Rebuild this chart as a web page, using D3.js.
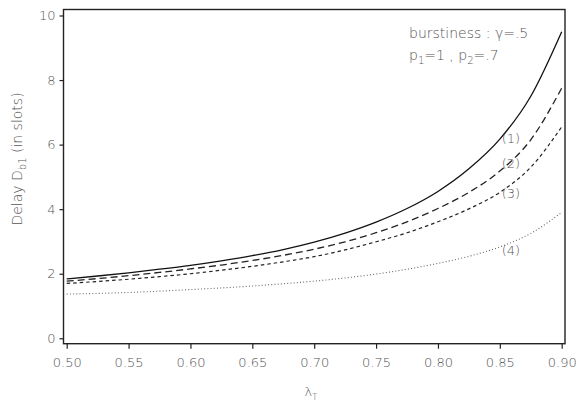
<!DOCTYPE html>
<html>
<head>
<meta charset="utf-8">
<script src="https://cdn.jsdelivr.net/npm/d3@7"></script>
<style>
  html, body { margin: 0; padding: 0; background: #fff; }
  svg { display: block; }
  text { font-family: "DejaVu Sans", sans-serif; fill: #555; }
</style>
</head>
<body>
<svg id="chart" width="578" height="404"></svg>
<script>
// Load factor values at which the delay was evaluated
const lambdaT = [0.50, 0.525, 0.55, 0.575, 0.60, 0.625, 0.65, 0.675, 0.70,
                 0.725, 0.75, 0.775, 0.80, 0.825, 0.85, 0.875, 0.90];

// Delay D_b1 (slots) for the four configurations
const delay1 = [1.84, 1.93, 2.03, 2.14, 2.26, 2.40, 2.56, 2.75, 2.98,
                3.26, 3.60, 4.02, 4.55, 5.25, 6.17, 7.50, 9.50];
const delay2 = [1.77, 1.85, 1.94, 2.04, 2.15, 2.27, 2.41, 2.57, 2.76,
                2.99, 3.27, 3.61, 4.02, 4.52, 5.18, 6.15, 7.75];
const delay3 = [1.70, 1.76, 1.83, 1.91, 2.00, 2.11, 2.23, 2.37, 2.53,
                2.74, 2.99, 3.27, 3.61, 4.01, 4.52, 5.30, 6.55];
const delay4 = [1.37, 1.39, 1.42, 1.46, 1.51, 1.56, 1.62, 1.69, 1.77,
                1.87, 1.99, 2.14, 2.32, 2.54, 2.83, 3.25, 3.90];

const seriesNames = ["(1)", "(2)", "(3)", "(4)"];
const labelLambda = [0.859, 0.859, 0.859, 0.859];
const labelDelay  = [6.19, 5.42, 4.49, 2.73];

const xTicks = [0.50, 0.55, 0.60, 0.65, 0.70, 0.75, 0.80, 0.85, 0.90];
const yTicks = [0, 2, 4, 6, 8, 10];

const svg = d3.select("#chart");

// Plot frame and scales
const frame = { left: 63.5, right: 565, top: 9.5, bottom: 343.7 };
const x = d3.scaleLinear().domain([0.50, 0.90]).range([66.7, 561.7]);
const y = d3.scaleLinear().domain([0, 10]).range([338.3, 15.5]);

svg.append("rect")
  .attr("x", frame.left).attr("y", frame.top)
  .attr("width", frame.right - frame.left)
  .attr("height", frame.bottom - frame.top)
  .attr("fill", "none").attr("stroke", "#222").attr("stroke-width", 1.4);

// Axes
const xAxis = svg.append("g")
  .attr("transform", `translate(0,${frame.bottom})`)
  .call(d3.axisBottom(x).tickValues(xTicks).tickFormat(d3.format(".2f"))
        .tickSize(5).tickPadding(9));
const yAxis = svg.append("g")
  .attr("transform", `translate(${frame.left},0)`)
  .call(d3.axisLeft(y).tickValues(yTicks).tickSize(4).tickPadding(4));

[xAxis, yAxis].forEach(g => {
  g.select(".domain").remove();
  g.selectAll(".tick line").attr("stroke", "#222").attr("stroke-width", 1.2);
  g.selectAll(".tick text")
    .style("font-family", "DejaVu Sans, sans-serif")
    .style("font-size", "13px").style("font-weight", "200")
    .attr("fill", "#5a5a5a");
});

// Curves
const series = [delay1, delay2, delay3, delay4];
const styles = [
  { dash: null,    color: "#111", width: 1.3 },
  { dash: "7,4",   color: "#222", width: 1.3 },
  { dash: "3.5,3", color: "#222", width: 1.2 },
  { dash: "1,2.2", color: "#666", width: 1.1 }
];
const line = d3.line()
  .x(d => x(d[0])).y(d => y(d[1]))
  .curve(d3.curveMonotoneX);

series.forEach((vals, i) => {
  svg.append("path")
    .datum(lambdaT.map((l, j) => [l, vals[j]]))
    .attr("d", line)
    .attr("fill", "none")
    .attr("stroke", styles[i].color)
    .attr("stroke-width", styles[i].width)
    .attr("stroke-dasharray", styles[i].dash);
});

// Curve labels
seriesNames.forEach((name, i) => {
  svg.append("text")
    .attr("x", x(labelLambda[i])).attr("y", y(labelDelay[i]))
    .attr("text-anchor", "middle").attr("dominant-baseline", "central")
    .style("font-size", "13px").style("font-weight", "200")
    .text(name);
});

// Parameter annotation
svg.append("text")
  .attr("x", 409).attr("y", 38)
  .style("font-size", "14px").style("font-weight", "200")
  .text("burstiness : γ=.5");
const p = svg.append("text")
  .attr("x", 409).attr("y", 60)
  .style("font-size", "14px").style("font-weight", "200");
p.append("tspan").text("p");
p.append("tspan").attr("dy", 4).style("font-size", "10px").text("1");
p.append("tspan").attr("dy", -4).text("=1 , p");
p.append("tspan").attr("dy", 4).style("font-size", "10px").text("2");
p.append("tspan").attr("dy", -4).text("=.7");

// Axis titles
const yt = svg.append("text")
  .attr("transform", "translate(22,159) rotate(-90)")
  .attr("text-anchor", "middle")
  .style("font-size", "14px").style("font-weight", "200");
yt.append("tspan").text("Delay D");
yt.append("tspan").attr("dy", 4).style("font-size", "10px").text("b1");
yt.append("tspan").attr("dy", -4).text(" (in slots)");

const xt = svg.append("text")
  .attr("x", 311).attr("y", 396)
  .attr("text-anchor", "middle")
  .style("font-size", "13px").style("font-weight", "200");
xt.append("tspan").text("λ");
xt.append("tspan").attr("dy", 4).style("font-size", "9px").text("T");
</script>
</body>
</html>
